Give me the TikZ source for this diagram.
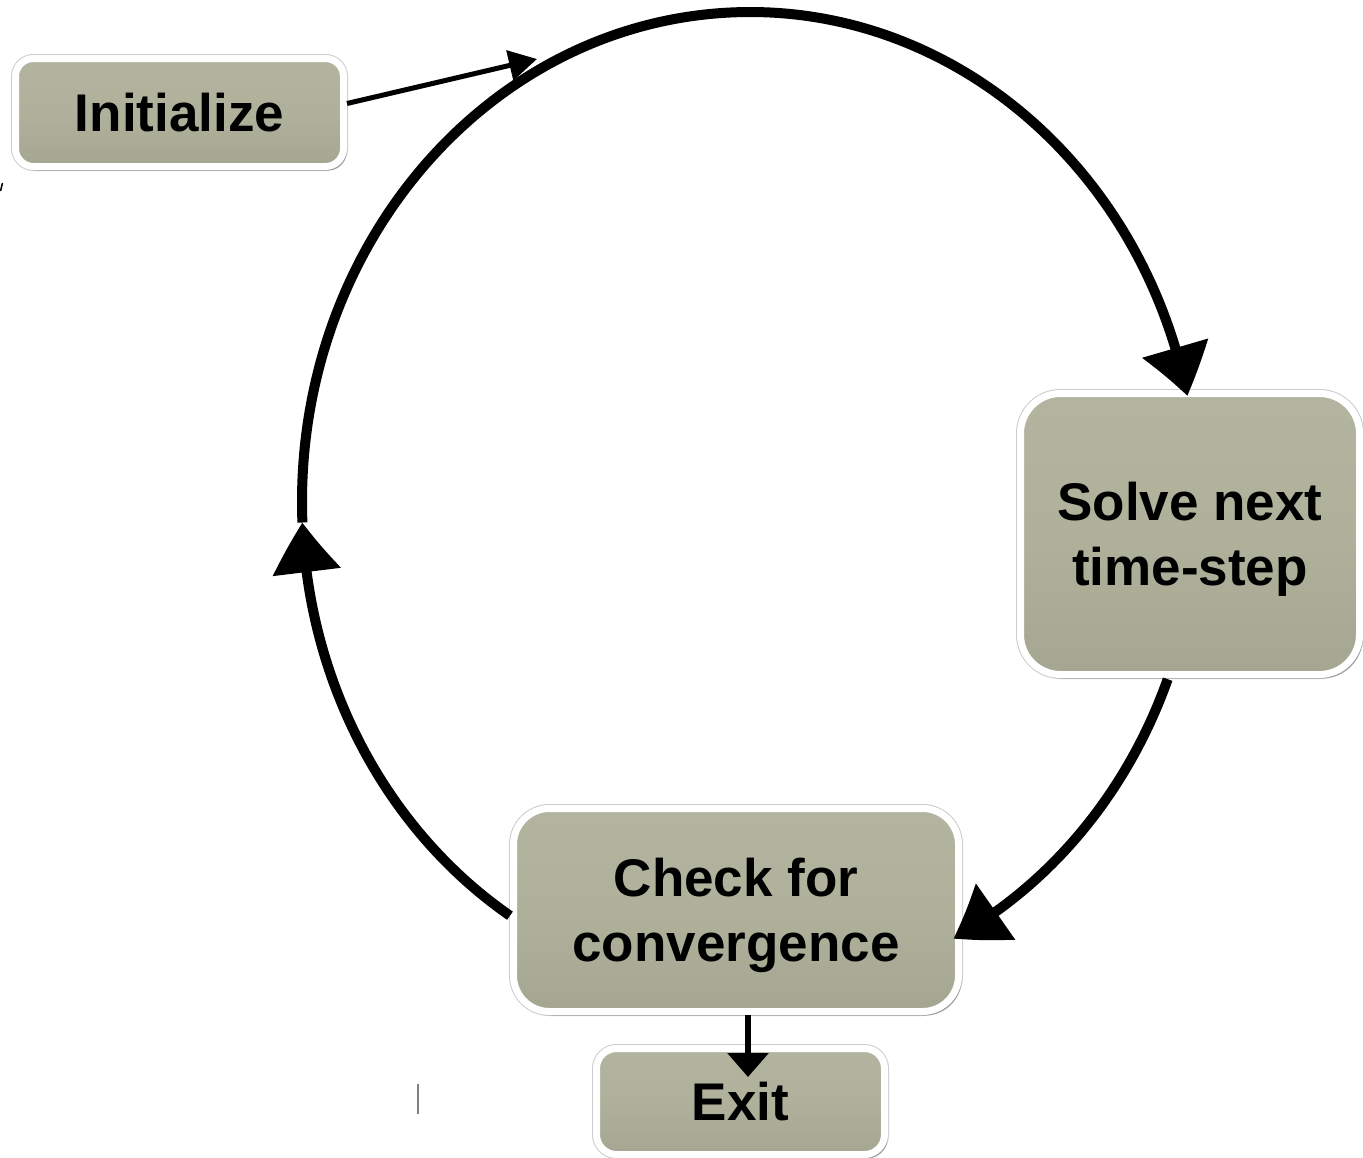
\documentclass[tikz,border=0pt]{standalone}
\usepackage{fontspec}
\setmainfont{Liberation Sans}
\usetikzlibrary{arrows.meta,bending,shadows}
\definecolor{boxfill}{RGB}{175,177,155}
\tikzset{
  procbox/.style={rounded corners=#1, draw=white, line width=7pt,
    top color=boxfill!96!white, bottom color=boxfill!94!black, middle color=boxfill,
    preaction={draw=black!20, line width=9pt},
    drop shadow={shadow xshift=3pt, shadow yshift=-4pt, opacity=0.25, fill=black},
    inner sep=0pt, align=center, font=\bfseries\fontsize{53}{65}\selectfont},
  procbox/.default=20pt,
  loop/.style={line width=10pt, -{Triangle[width=66pt,length=50pt,bend]}},
  thinarrow/.style={line width=5pt, -{Triangle[width=30pt,length=28pt]}},
}
\newcommand{\topstrut}{\rule{0pt}{49pt}}
\begin{document}
\begin{tikzpicture}[x=1pt,y=-1pt]
\useasboundingbox (0,0) rectangle (1363,1157);
\fill[white] (0,0) rectangle (1363,1157);

% nodes
\node[procbox=18pt, minimum width=328pt, minimum height=108pt] (init) at (179.5,112.5) {Initialize};
\node[procbox=40pt, minimum width=339pt, minimum height=281pt] (solve) at (1190,534) {\topstrut Solve next\\time-step};
\node[procbox=36pt, minimum width=445pt, minimum height=203pt] (check) at (736,910) {\topstrut Check for\\convergence};
\node[procbox=20pt, minimum width=288pt, minimum height=106pt] (exit) at (740.5,1101.5) {Exit};

% loop geometry (ellipse centre and points on it)
\coordinate (ctr) at (750,502);
\coordinate (pA) at ({750+448*cos(122.4)},{502+490*sin(122.4)});
\coordinate (pB) at ({750+448*cos(177.6)},{502+490*sin(177.6)});
\coordinate (pS) at ({750+448*cos(21.2)},{502+490*sin(21.2)});
\coordinate (inTop) at (537,59);
\coordinate (exitTip) at (748,1077);

% loop arcs
\draw[loop] (pA) arc[start angle=122.4, end angle=177.6, x radius=448, y radius=490];
\draw[loop] (pB) arc[start angle=177.6, end angle=347.5, x radius=448, y radius=490];
\draw[loop] (pS) arc[start angle=21.2, end angle=63, x radius=448, y radius=490];

% straight connectors
\draw[thinarrow] ([yshift=9pt]init.east) -- (inTop);
\draw[line width=6pt, -{Triangle[width=40pt,length=24pt]}] ([xshift=12pt]check.south) -- (exitTip);

% small stray marks seen in the picture
\draw[black!50, line width=2pt] (418,1084) -- (418,1114);
\draw[black, line width=1.5pt] (0.5,191) -- (2.5,183);
\end{tikzpicture}
\end{document}
